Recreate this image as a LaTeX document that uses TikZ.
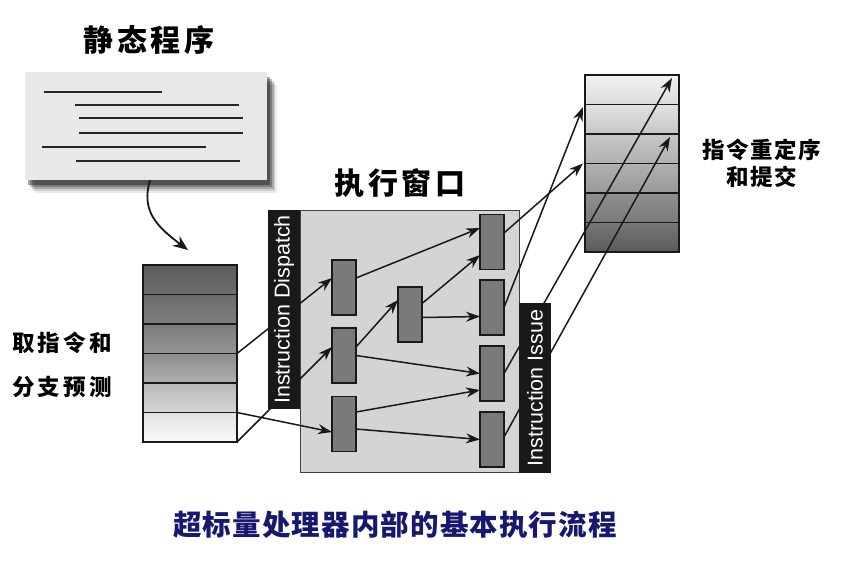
\documentclass[tikz,border=0pt]{standalone}
\usepackage{fontspec}
\setmainfont{Liberation Sans}
\newfontfamily\cjk{Noto Sans CJK SC}
\usepackage{xcolor}
\usepackage{tikz}
\usetikzlibrary{arrows.meta, positioning, shadows}
\definecolor{captionblue}{RGB}{24,24,112}

\begin{document}
\begin{tikzpicture}[
    x=1pt, y=-1pt,
    headline/.style={font=\cjk\bfseries\fontsize{30}{36}\selectfont\addfontfeatures{LetterSpace=13}},
    note/.style={align=center, inner sep=0pt},
    fetchrow/.style={rectangle, draw=black!90, line width=1.6pt, minimum width=94pt, minimum height=29.5pt, inner sep=0pt, outer sep=0pt},
    slot/.style={rectangle, draw=black!90, fill=black!52, line width=1.4pt, minimum width=24pt, minimum height=55pt, inner sep=0pt, outer sep=0pt},
    stagebar/.style={rectangle, fill=black!90, text=white, rotate=90, minimum height=32pt, inner sep=0pt, font=\fontsize{21.5}{24}\selectfont},
    progline/.style={line width=2pt, black!85},
    arrow/.style={-{Stealth[length=14pt, width=10pt]}, line width=1.5pt, black!90}
]
    \path[use as bounding box, fill=white] (0,0) rectangle (853,565);

    % static program
    \node[headline] (progtitle) at (149,40) {静态程序};
    \node[fill=black!9, minimum width=242pt, minimum height=108pt,
          drop shadow={shadow xshift=10pt, shadow yshift=-13pt, fill=black, opacity=.08},
          drop shadow={shadow xshift=8pt, shadow yshift=-11pt, fill=black, opacity=.12},
          drop shadow={shadow xshift=7pt, shadow yshift=-9pt, fill=black, opacity=.18},
          drop shadow={shadow xshift=5pt, shadow yshift=-7pt, fill=black, opacity=.25},
          drop shadow={shadow xshift=3pt, shadow yshift=-5pt, fill=black, opacity=.35}] (prog) at (146,126) {};
    \draw[progline] (44,92) -- (162,92);
    \draw[progline] (75,105) -- (239,105);
    \draw[progline] (79,118) -- (243,118);
    \draw[progline] (79,133) -- (243,133);
    \draw[progline] (42,147) -- (206,147);
    \draw[progline] (76,161) -- (240,161);

    % fetch and branch prediction
    \node[fetchrow, top color=black!64, bottom color=black!57] (fetch1) at (190,279.75) {};
    \node[fetchrow, top color=black!58, bottom color=black!50, below=0pt of fetch1] (fetch2) {};
    \node[fetchrow, top color=black!52, bottom color=black!41, below=0pt of fetch2] (fetch3) {};
    \node[fetchrow, top color=black!45, bottom color=black!31, below=0pt of fetch3] (fetch4) {};
    \node[fetchrow, top color=black!28, bottom color=black!16, below=0pt of fetch4] (fetch5) {};
    \node[fetchrow, top color=black!12, bottom color=black!2, below=0pt of fetch5] (fetch6) {};
    \node[note, font=\cjk\bfseries\fontsize{22.5}{44}\selectfont\addfontfeatures{LetterSpace=14}] (fetchlabel) at (62,365) {取指令和\\分支预测};

    % reorder and commit
    \node[fetchrow, top color=black!5, bottom color=black!14] (rob1) at (632,89.75) {};
    \node[fetchrow, top color=black!12, bottom color=black!22, below=0pt of rob1] (rob2) {};
    \node[fetchrow, top color=black!22, bottom color=black!31, below=0pt of rob2] (rob3) {};
    \node[fetchrow, top color=black!31, bottom color=black!40, below=0pt of rob3] (rob4) {};
    \node[fetchrow, top color=black!44, bottom color=black!52, below=0pt of rob4] (rob5) {};
    \node[fetchrow, top color=black!53, bottom color=black!65, below=0pt of rob5] (rob6) {};
    \node[note, font=\cjk\bfseries\fontsize{22.5}{27}\selectfont\addfontfeatures{LetterSpace=7}] (roblabel) at (762,163.5) {指令重定序\\和提交};

    % execution window
    \node[headline] (wintitle) at (400,183) {执行窗口};
    \node[draw=black!75, line width=1pt, fill=black!17, minimum width=219pt, minimum height=262pt, inner sep=0pt] (window) at (409.5,341) {};
    \node[slot] (disp1) at (344,287.5) {};
    \node[slot, below=13pt of disp1] (disp2) {};
    \node[slot, below=13.5pt of disp2] (disp3) {};
    \node[slot] (mid) at (410,314.5) {};
    \node[slot] (iss1) at (492,242) {};
    \node[slot, below=10.5pt of iss1] (iss2) {};
    \node[slot, below=11pt of iss2] (iss3) {};
    \node[slot, below=11pt of iss3] (iss4) {};

    \draw[-{Stealth[length=15pt, width=12pt]}, line width=1.8pt, black!90] ([xshift=4pt]prog.south) .. controls +(-9,30) and +(-32,-24) .. ([xshift=-2pt, yshift=15pt]fetch1.north);

    \draw[arrow] (fetch3.south east) -- ([yshift=9.5pt]disp1.west);
    \draw[arrow] (fetch6.south east) -- ([yshift=8.5pt]disp2.west);
    \draw[arrow] (fetch5.south east) -- ([yshift=-8pt]disp3.west);
    \draw[arrow] ([yshift=9.5pt]disp1.east) -- ([yshift=14pt]iss1.west);
    \draw[arrow] ([yshift=8.5pt]disp2.east) -- ([yshift=14.5pt]mid.west);
    \draw[arrow] (disp2.east) -- (iss3.west);
    \draw[arrow] ([yshift=12pt]disp3.east) -- ([yshift=-16.5pt]iss3.west);
    \draw[arrow] ([yshift=-5pt]disp3.east) -- (iss4.west);
    \draw[arrow] ([yshift=11pt]mid.east) -- ([yshift=-13pt]iss1.west);
    \draw[arrow] ([yshift=-3pt]mid.east) -- ([yshift=-9pt]iss2.west);
    \draw[arrow] ([yshift=9pt]iss1.east) -- ([xshift=-2pt]rob3.south west);
    \draw[arrow] (iss2.east) -- ([xshift=-2pt, yshift=-2.5pt]rob1.south west);
    \draw[arrow] (iss3.east) -- ([xshift=-7pt, yshift=-3pt]rob1.north east);
    \draw[arrow] ([yshift=2.5pt]iss4.east) -- ([xshift=-9pt, yshift=-3pt]rob3.north east);

    \node[stagebar, minimum width=199pt] (dispatch) at (284,309.5) {Instruction Dispatch};
    \node[stagebar, minimum width=170pt] (issue) at (535,388) {Instruction Issue};

    \node[font=\cjk\bfseries\fontsize{28.5}{34}\selectfont\addfontfeatures{LetterSpace=4}, text=captionblue] (caption) at (395,525) {超标量处理器内部的基本执行流程};
\end{tikzpicture}
\end{document}
